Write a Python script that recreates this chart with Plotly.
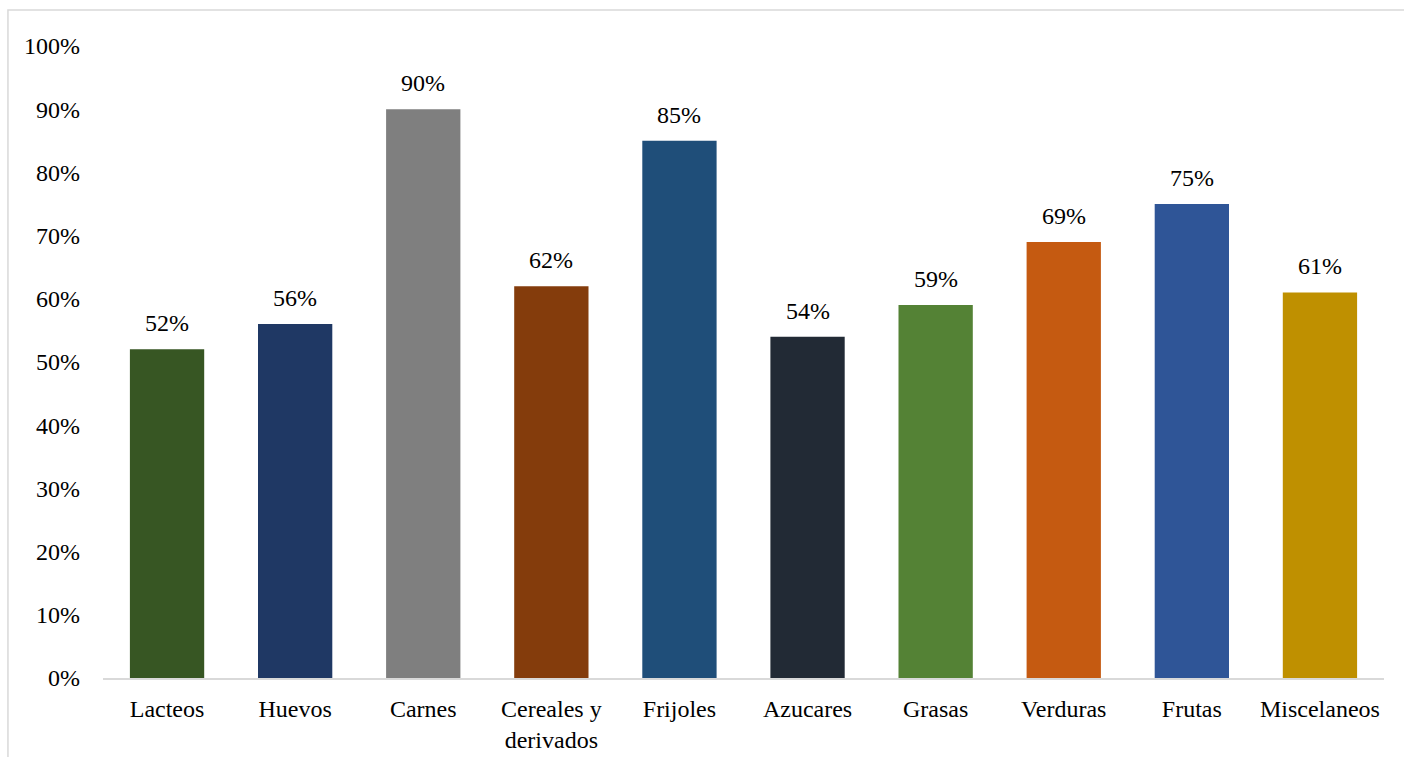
import plotly.graph_objects as go

categories = ["Lacteos", "Huevos", "Carnes", "Cereales y<br>derivados", "Frijoles",
              "Azucares", "Grasas", "Verduras", "Frutas", "Miscelaneos"]
values = [0.52, 0.56, 0.90, 0.62, 0.85, 0.54, 0.59, 0.69, 0.75, 0.61]
colors = ["#375623", "#1F3864", "#7F7F7F", "#843C0C", "#1F4E79",
          "#222A35", "#548235", "#C55A11", "#2F5597", "#BF9000"]
labels = [f"{round(v*100)}%" for v in values]

font_family = "Liberation Serif, Times New Roman, serif"

fig = go.Figure(go.Bar(
    x=categories, y=values, marker=dict(color=colors, line=dict(width=0)),
    width=0.58, hoverinfo="x+y",
))

for c, v, t in zip(categories, values, labels):
    fig.add_annotation(x=c, y=v, text=t, showarrow=False, yanchor="bottom",
                       yshift=11, font=dict(family=font_family, size=24, color="#000000"))

fig.update_layout(
    width=1404, height=757,
    margin=dict(l=103, r=20, t=46, b=79, autoexpand=False),
    paper_bgcolor="white", plot_bgcolor="white",
    font=dict(family=font_family, size=24, color="#000000"),
    showlegend=False,
    xaxis=dict(showgrid=False, showline=True, linecolor="#D9D9D9", linewidth=2,
               ticks="", tickfont=dict(size=24), ticklabelstandoff=8, automargin=False),
    yaxis=dict(range=[0, 1], tickvals=[i/10 for i in range(11)], tickformat=".0%",
               showgrid=False, showline=False, zeroline=False, ticks="",
               ticklabelstandoff=22, tickfont=dict(size=24), automargin=False),
    shapes=[dict(type="rect", xref="paper", yref="paper",
                 x0=-0.0742, x1=1.02, y0=-0.2, y1=1.057,
                 line=dict(color="#D9D9D9", width=1.5), fillcolor="rgba(0,0,0,0)", layer="below")],
)

fig.write_html("out.html")
